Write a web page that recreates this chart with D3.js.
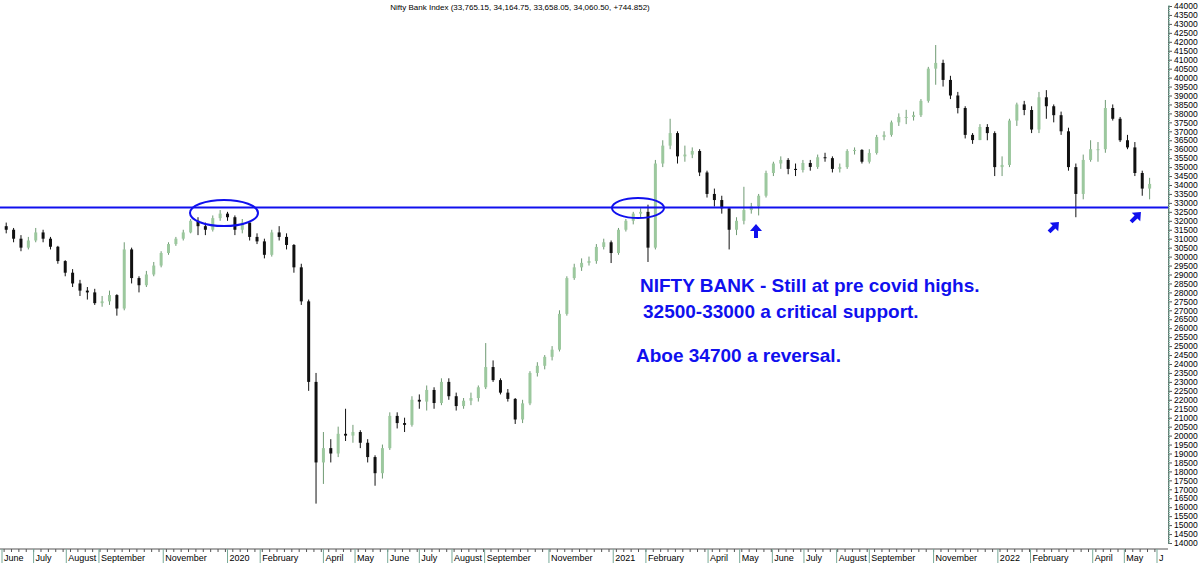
<!DOCTYPE html>
<html>
<head>
<meta charset="utf-8">
<script src="https://cdn.jsdelivr.net/npm/d3@7"></script>
<style>
  body { margin: 0; background: #fff; }
  svg { display: block; font-family: "Liberation Sans", Arial, sans-serif; }
</style>
</head>
<body>
<script>
// weekly closes / highs / lows (week of 3 Jun 2019 onward)
const closes = [31500,31000,30500,30900,31350,31000,30550,29750,29100,28500,
  28100,28000,27400,27500,27850,27100,30400,28800,28400,29000,
  29500,30200,30700,31000,31350,32000,31700,31500,32150,32400,
  32200,31500,31900,31100,30850,30100,31350,31100,30650,29400,
  27500,23000,18500,19300,19000,20100,20000,20200,19600,18800,
  17900,19300,21100,20700,20600,22000,21900,22550,21820,23000,
  22200,21650,21950,22100,22700,23830,23100,22400,22050,20900,
  21800,23500,23900,24400,24800,26800,28800,29400,29650,29750,
  30540,30800,30200,31500,32000,32400,32500,30500,35200,36200,
  36900,35600,35700,35900,34700,33500,33160,32700,31500,32000,
  32600,32800,33400,34670,35200,35400,34900,34840,35230,35010,
  35550,35500,34900,35000,35900,35960,35300,35790,36680,36800,
  37500,37800,37800,37900,38700,40500,40820,39870,39000,38300,
  36800,36510,37240,36900,35000,35120,37600,38500,38190,37100,
  38900,38400,37900,37000,35000,33500,35400,36000,36000,38300,
  37700,36500,36100,34670,33800,34060];
const highs = [31900,31600,31200,31100,31600,31500,31100,30600,29800,29300,
  28700,28300,28200,27800,28100,27900,30800,30500,28900,29200,
  29700,30300,30800,31100,31500,32100,32200,31900,32300,32600,
  32500,32300,32100,31900,31300,31000,31500,31700,31300,30700,
  29600,27600,23500,20200,19800,20500,21500,20600,20300,19800,
  18900,19500,21300,21300,21000,22200,22300,22800,22700,23200,
  23200,22400,22100,22400,22800,25170,24200,23200,22600,22100,
  22000,23600,24100,24500,25000,27000,28900,29600,29900,30000,
  30700,31000,30900,31600,32100,32500,32700,32900,35400,36500,
  37700,37000,36200,36100,36000,34800,33800,33400,32700,32200,
  33900,33000,33500,34800,35300,35600,35500,35200,35400,35400,
  35700,35800,35600,35200,36000,36100,36000,36000,36800,37000,
  37600,38000,38200,38100,38800,40600,41820,41000,40100,39200,
  38400,36900,37400,37400,37000,35600,37700,38600,38700,38400,
  39200,39300,38500,38100,37200,35200,35700,36500,36400,38750,
  38500,37800,36800,36400,34800,34400];
const lows = [31300,30800,30300,30400,30800,30800,30400,29600,28900,28300,
  27800,27600,27300,27200,27300,26700,27000,28500,28000,28300,
  28900,29400,30100,30600,30900,31300,31200,31200,31400,32000,
  32000,31200,31300,30900,30700,29900,30000,30900,30400,29100,
  27300,22500,16200,17300,18500,18800,19700,19600,19300,18500,
  17200,17600,19200,20400,20200,20500,21500,21400,21500,21700,
  22000,21400,21500,21700,21900,22600,23000,22300,21900,20650,
  20700,21700,23300,23700,24200,24700,26700,28700,29200,29500,
  29600,30400,29640,30100,31400,31800,32200,29700,30400,35000,
  36000,35200,35300,35500,34500,33300,32800,32400,30400,31200,
  31800,32400,32300,33300,34500,34900,34600,34500,34700,34800,
  34900,35300,34700,34700,34900,35700,35200,35200,35700,36500,
  36700,37300,37400,37600,37800,38600,39600,39500,38800,38000,
  36600,36300,36600,36500,34500,34500,35000,37300,37900,36900,
  36900,37700,37500,36800,34800,32200,33200,35300,35300,35800,
  37600,36400,36000,34500,33400,33200];

const monthLabels = [
  ["2019-06-01","June"],["2019-07-01","July"],["2019-08-01","August"],["2019-09-01","September"],
  ["2019-11-01","November"],["2020-01-01","2020"],["2020-02-01","February"],["2020-04-01","April"],
  ["2020-05-01","May"],["2020-06-01","June"],["2020-07-01","July"],["2020-08-01","August"],
  ["2020-09-01","September"],["2020-11-01","November"],["2021-01-01","2021"],["2021-02-01","February"],
  ["2021-04-01","April"],["2021-05-01","May"],["2021-06-01","June"],["2021-07-01","July"],
  ["2021-08-01","August"],["2021-09-01","September"],["2021-11-01","November"],["2022-01-01","2022"],
  ["2022-02-01","February"],["2022-04-01","April"],["2022-05-01","May"],["2022-06-01","J"]];
const supportLevel = 32750;
const titleText = "Nifty Bank Index (33,765.15, 34,164.75, 33,658.05, 34,060.50, +744.852)";
const notes = ["NIFTY BANK - Still at pre covid highs.", "32500-33000 a critical support.", "Aboe 34700 a reversal."];

const W = 1200, H = 563, plotR = 1168, plotB = 543;
const svg = d3.select("body").append("svg").attr("width", W).attr("height", H);

const parse = d3.timeParse("%Y-%m-%d");
const start = parse("2019-06-03");
const data = closes.map((c, i) => ({
  date: d3.timeDay.offset(start, i * 7 + 2),
  open: i === 0 ? 31700 : closes[i - 1],
  close: c, high: highs[i], low: lows[i]
}));

const x = d3.scaleTime().domain([parse("2019-06-01"), parse("2022-06-01")]).range([2, 1157]);
const y = d3.scaleLinear().domain([14000, 44000]).range([plotB, 6]);

// title
svg.append("text").attr("x", 520).attr("y", 10).attr("text-anchor", "middle")
   .attr("font-size", 8).attr("fill", "#000").text(titleText);

// right axis
const yAxis = d3.axisRight(y).tickValues(d3.range(14000, 44001, 500)).tickSize(4).tickPadding(2)
   .tickFormat(d3.format("d"));
const ya = svg.append("g").attr("transform", `translate(${plotR},0)`).call(yAxis);
ya.select(".domain").attr("stroke", "#555");
ya.selectAll("text").attr("font-size", 8.5).attr("fill", "#000");
ya.selectAll(".tick line").attr("stroke", "#555");
svg.append("g").attr("transform", `translate(${plotR},0)`)
   .selectAll("line").data(d3.range(14000, 44001, 100)).join("line")
   .attr("y1", d => y(d)).attr("y2", d => y(d)).attr("x1", 0).attr("x2", 2).attr("stroke", "#7a9");

// bottom axis
const xAxisG = svg.append("g").attr("transform", `translate(0,${plotB + 6})`);
xAxisG.append("line").attr("x1", 0).attr("x2", plotR).attr("stroke", "#555");
xAxisG.selectAll(".wk").data(d3.timeMonday.range(parse("2019-06-01"), parse("2022-06-01"))).join("line")
   .attr("x1", d => x(d)).attr("x2", d => x(d)).attr("y1", 0).attr("y2", 3).attr("stroke", "#555");
const ml = xAxisG.selectAll(".ml").data(monthLabels).join("g")
   .attr("transform", d => `translate(${x(parse(d[0]))},0)`);
ml.append("line").attr("y1", 0).attr("y2", 14).attr("stroke", "#7a9");
ml.append("text").attr("x", 2).attr("y", 12).attr("font-size", 9).attr("fill", "#000").text(d => d[1]);

// candles
const cw = 3;
const g = svg.append("g");
g.selectAll("line.wick").data(data).join("line")
  .attr("x1", d => x(d.date)).attr("x2", d => x(d.date))
  .attr("y1", d => y(Math.max(d.high, d.open, d.close)))
  .attr("y2", d => y(Math.min(d.low, d.open, d.close)))
  .attr("stroke", d => d.close >= d.open ? "#6f9a73" : "#111").attr("stroke-width", 1);
g.selectAll("rect").data(data).join("rect")
  .attr("x", d => x(d.date) - cw / 2).attr("width", cw)
  .attr("y", d => y(Math.max(d.open, d.close)))
  .attr("height", d => Math.max(1, Math.abs(y(d.open) - y(d.close))))
  .attr("fill", d => d.close >= d.open ? "#9cc89e" : "#111");

// annotations
const blue = "#1010ee";
svg.append("line").attr("x1", 0).attr("x2", plotR).attr("y1", y(supportLevel)).attr("y2", y(supportLevel))
   .attr("stroke", blue).attr("stroke-width", 2);
svg.append("ellipse").attr("cx", 224).attr("cy", 213).attr("rx", 34).attr("ry", 13)
   .attr("fill", "none").attr("stroke", blue).attr("stroke-width", 2);
svg.append("ellipse").attr("cx", 638).attr("cy", 208).attr("rx", 26).attr("ry", 10)
   .attr("fill", "none").attr("stroke", blue).attr("stroke-width", 2);
const arrow = (cx, cy, rot) => svg.append("path")
   .attr("d", "M0,-7 L6,0 L2,0 L2,7 L-2,7 L-2,0 L-6,0 Z")
   .attr("fill", blue).attr("transform", `translate(${cx},${cy}) rotate(${rot})`);
arrow(756, 231, 0);
arrow(1054, 227, 45);
arrow(1136, 217, 45);

const tx = [[640, 292], [643, 318], [636, 362]];
notes.forEach((t, i) => svg.append("text").attr("x", tx[i][0]).attr("y", tx[i][1])
   .attr("font-size", 19).attr("font-weight", "bold").attr("fill", blue).text(t));
</script>
</body>
</html>
